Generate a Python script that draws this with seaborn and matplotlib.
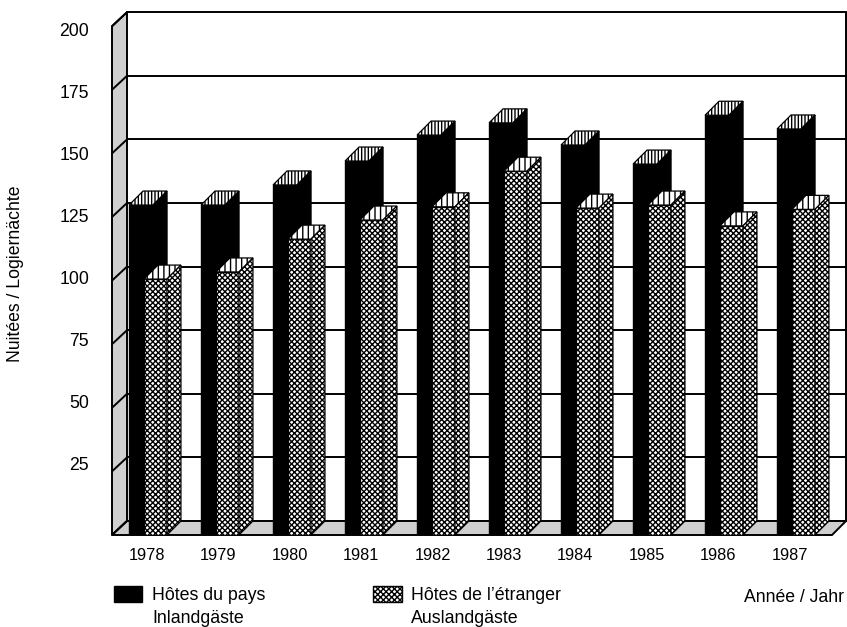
import numpy as np
import pandas as pd
import matplotlib
matplotlib.use('Agg')
import matplotlib.pyplot as plt
from matplotlib.patches import Patch, Polygon
import seaborn as sns

# Data
years = [1978, 1979, 1980, 1981, 1982, 1983, 1984, 1985, 1986, 1987]
inland = [129.7, 129.7, 137.6, 147, 157.2, 162, 153.3, 145.8, 165, 159.6]
ausland = [100.6, 103.4, 116.3, 123.8, 129, 143, 128.5, 129.7, 121.5, 128]
y_ticks = [25, 50, 75, 100, 125, 150, 175, 200]

sns.set_theme(style='white')
plt.rcParams['font.family'] = ['Liberation Sans', 'DejaVu Sans']
plt.rcParams['hatch.linewidth'] = 1.0

df = pd.DataFrame({'year': years, 'inland': inland, 'ausland': ausland})

fig = plt.figure(figsize=(8.47, 6.27), dpi=100)
ax = fig.add_axes([112 / 847, 92 / 627, 734 / 847, 523 / 627])

# depth of the fake 3d, in data units
dx = 14 / 72
dy = 14 / 63.6 * 25
wall_dx = 15 / 72

sns.barplot(x=df['year'] - 0.1, y=df['inland'], native_scale=True, width=24 / 72,
            color='black', saturation=1, edgecolor='black', linewidth=1, zorder=3, ax=ax)
n_inland = len(ax.patches)
sns.barplot(x=df['year'] + 0.1, y=df['ausland'], native_scale=True, width=23 / 72,
            color='white', saturation=1, edgecolor='black', linewidth=0.9, hatch='xxxxxx',
            zorder=5, ax=ax)

x_left = 1978 - 36.25 / 72
x_right = 1978 + 697.75 / 72
ax.set_xlim(x_left, x_right)
ax.set_ylim(0, 523 / 63.6 * 25)


def add_face(points, z, **kw):
    ax.add_patch(Polygon(points, closed=True, clip_on=False, zorder=z, edgecolor='black', **kw))


# Walls and floor
back_left = x_left + wall_dx
front_right = x_right - dx
add_face([(x_left, 0), (back_left, dy), (back_left, 200 + dy), (x_left, 200)], 2,
         facecolor='#cfcfcf', linewidth=1.4)
add_face([(x_left, 0), (back_left, dy), (x_right, dy), (front_right, 0)], 2,
         facecolor='#cfcfcf', linewidth=1.4)

for v in [0] + y_ticks:
    ax.plot([back_left, x_right], [v + dy, v + dy], color='black', lw=1.4, zorder=1, clip_on=False)
    ax.plot([x_left, back_left], [v, v + dy], color='black', lw=1.4, zorder=2.5, clip_on=False)
ax.plot([x_right, x_right], [dy, 200 + dy], color='black', lw=1.4, zorder=1, clip_on=False)

# Top and side faces from the bars seaborn made
for i, bar in enumerate(ax.patches[:2 * len(years)]):
    x0, w, h = bar.get_x(), bar.get_width(), bar.get_height()
    is_inland = i < n_inland
    z = 3 if is_inland else 5
    top = [(x0, h), (x0 + dx, h + dy), (x0 + w + dx, h + dy), (x0 + w, h)]
    side = [(x0 + w, 0), (x0 + w + dx, dy), (x0 + w + dx, h + dy), (x0 + w, h)]
    add_face(top, z, facecolor='white', hatch='|||||' if is_inland else '|||', linewidth=0.9)
    if is_inland:
        add_face(side, z, facecolor='black', linewidth=0.9)
    else:
        add_face(side, z, facecolor='white', hatch='xxxxxx', linewidth=0.9)

sns.despine(ax=ax, left=True, bottom=True)
ax.set_xticks([])
ax.set_yticks([])
ax.set_xlabel('')
ax.set_ylabel('')

# tick labels sit on their own slightly tighter scale in the original
ax_labels = fig.add_axes(ax.get_position(), facecolor='none')
ax_labels.set_xlim(1978 - 35 / 71.4, 1978 + 699 / 71.4)
ax_labels.set_ylim(-4, -4 + 523 / 62 * 25)
ax_labels.set_xticks(years)
ax_labels.set_yticks(y_ticks)
ax_labels.tick_params(axis='x', length=0, pad=9, labelsize=11.8, colors='black')
ax_labels.tick_params(axis='y', length=0, pad=16.5, labelsize=12.7, colors='black')
sns.despine(ax=ax_labels, left=True, bottom=True, right=True, top=True)

fig.text(16 / 847, 1 - 274 / 627, 'Nuitées / Logiernächte', rotation=90, ha='center', va='center',
         fontsize=12.7, color='black')
fig.text(844 / 847, 1 - 597 / 627, 'Année / Jahr', ha='right', va='center', fontsize=12.7, color='black')

# Legend
blank = Patch(visible=False)
handles = [Patch(facecolor='black', edgecolor='black'), blank,
           Patch(facecolor='white', edgecolor='black', hatch='xxxxxx'), blank]
labels = ['Hôtes du pays', 'Inlandgäste', 'Hôtes de l’étranger', 'Auslandgäste']
fig.legend(handles, labels, ncol=2, loc='upper left', bbox_to_anchor=(114 / 847, 1 - 586 / 627),
           frameon=False, fontsize=12.8, handlelength=1.6, handleheight=1.0, handletextpad=0.55,
           columnspacing=6.05, labelspacing=0.3, borderpad=0, borderaxespad=0, labelcolor='black')

fig.savefig('out.png', dpi=100)
